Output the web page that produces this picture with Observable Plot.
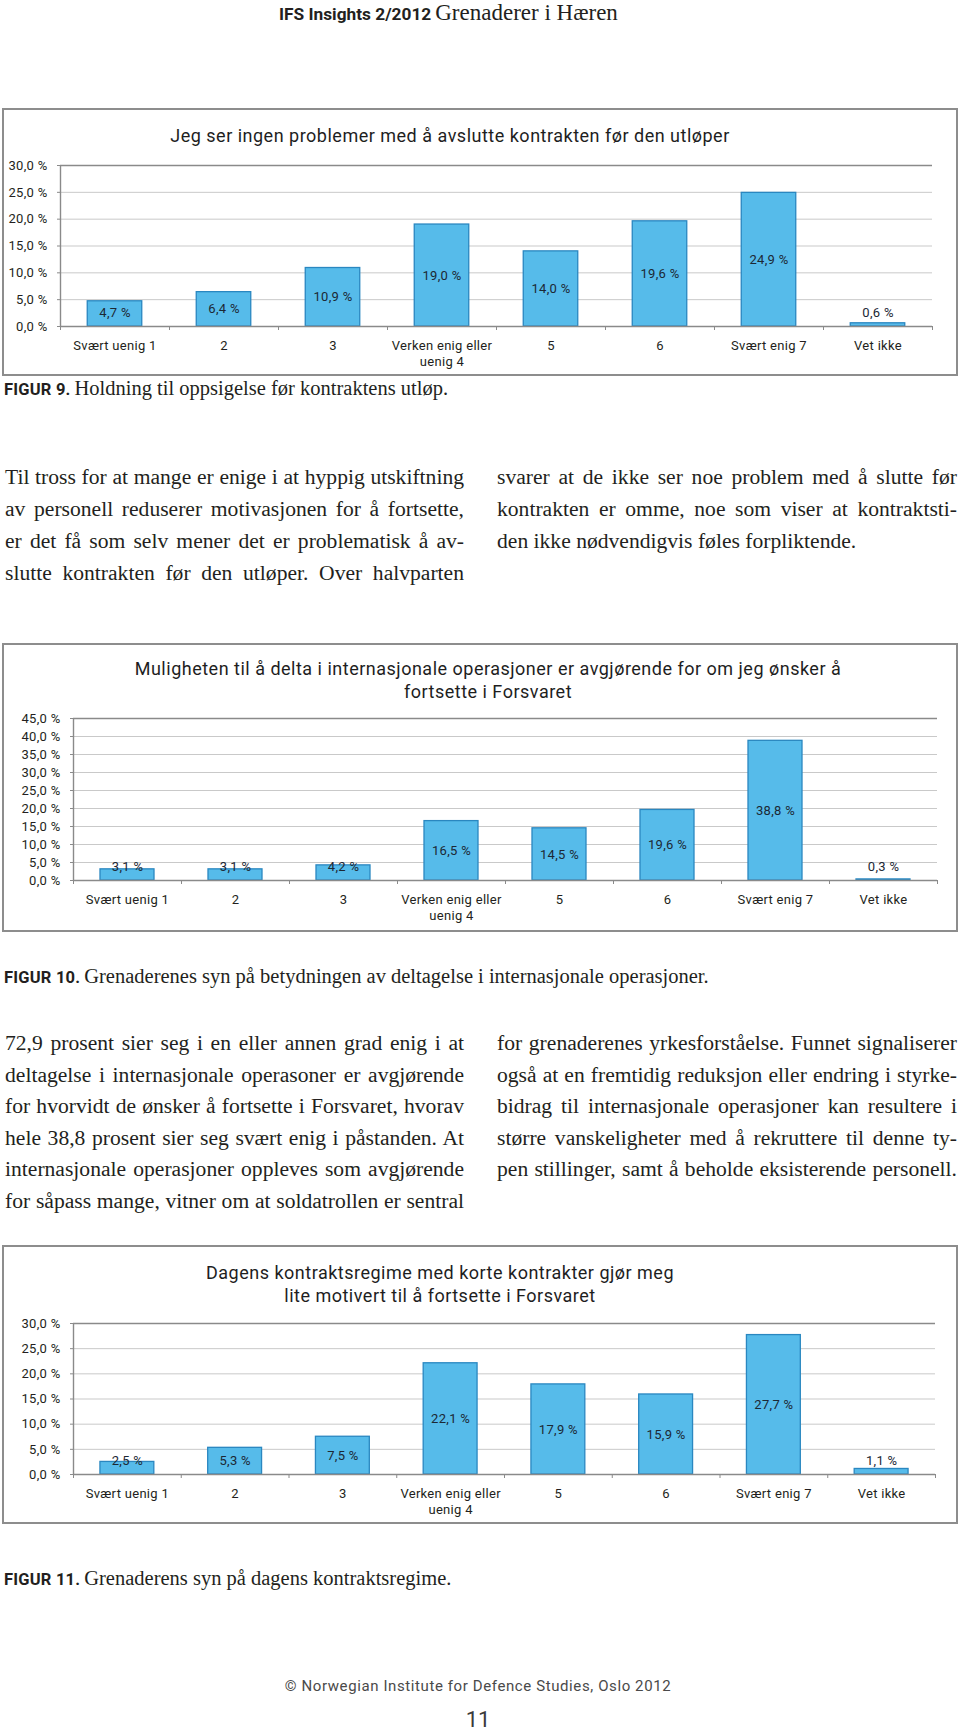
<!DOCTYPE html>
<html>
<head>
<meta charset="utf-8">
<script src="https://cdn.jsdelivr.net/npm/d3@7"></script>
<script src="https://cdn.jsdelivr.net/npm/@observablehq/plot@0.6"></script>
<style>
  body { margin: 0; background: #fff; }
  #page { position: relative; width: 960px; height: 1731px; overflow: hidden; background: #fff; color: #231f20; }
  .abs { position: absolute; }
  .box { position: absolute; left: 2px; width: 956px; border: 2px solid #8d8d8d; box-sizing: border-box; }
  .ctitle { position: absolute; font-family: Roboto, sans-serif; font-size: 18px; letter-spacing: 0.5px; line-height: 23px;
            text-align: center; white-space: nowrap; transform: translate(-50%, -50%); color: #1e1e1e; }
  .jl { position: absolute; font-family: "Liberation Serif", serif; font-size: 21.6px; line-height: 24px; white-space: nowrap;
        text-align: justify; text-align-last: justify; color: #231f20; }
  .ll { text-align-last: left; }
  .cap { position: absolute; left: 4px; white-space: nowrap; line-height: 24px; color: #231f20; }
  .cap b { font-family: Roboto, sans-serif; font-weight: 700; font-size: 16.5px; letter-spacing: 0.2px; }
  .cap span { font-family: "Liberation Serif", serif; font-size: 20.5px; }
  .chart { position: absolute; left: 0; }
</style>
</head>
<body>
<div id="page">
  <div class="abs" style="left:279px;top:1px;line-height:24px;white-space:nowrap;">
    <span style="font-family:Roboto,sans-serif;font-weight:700;font-size:17.3px;">IFS Insights 2/2012</span>
    <span style="font-family:'Liberation Serif',serif;font-size:23px;">Grenaderer i Hæren</span>
  </div>

  <!-- Figure 9 -->
  <div class="box" style="top:108px;height:268px;"></div>
  <div class="ctitle" id="t9" style="left:450px;top:135px;"></div>
  <div class="chart" id="c9" style="top:150px;"></div>
  <div class="cap" style="top:376px;"><b>FIGUR 9.</b> <span>Holdning til oppsigelse før kontraktens utløp.</span></div>

  <div class="jl" style="left:5px;width:459px;top:465px;">Til tross for at mange er enige i at hyppig utskiftning</div>
  <div class="jl" style="left:5px;width:459px;top:497px;">av personell reduserer motivasjonen for å fortsette,</div>
  <div class="jl" style="left:5px;width:459px;top:529px;">er det få som selv mener det er problematisk å av-</div>
  <div class="jl" style="left:5px;width:459px;top:561px;">slutte kontrakten før den utløper. Over halvparten</div>
  <div class="jl" style="left:497px;width:460px;top:465px;">svarer at de ikke ser noe problem med å slutte før</div>
  <div class="jl" style="left:497px;width:460px;top:497px;">kontrakten er omme, noe som viser at kontraktsti-</div>
  <div class="jl ll" style="left:497px;width:460px;top:529px;">den ikke nødvendigvis føles forpliktende.</div>

  <!-- Figure 10 -->
  <div class="box" style="top:643px;height:289px;"></div>
  <div class="ctitle" id="t10" style="left:488px;top:680px;"></div>
  <div class="chart" id="c10" style="top:700px;"></div>
  <div class="cap" style="top:964px;"><b>FIGUR 10.</b> <span>Grenaderenes syn på betydningen av deltagelse i internasjonale operasjoner.</span></div>

  <div class="jl" style="left:5px;width:459px;top:1031px;">72,9 prosent sier seg i en eller annen grad enig i at</div>
  <div class="jl" style="left:5px;width:459px;top:1063px;">deltagelse i internasjonale operasoner er avgjørende</div>
  <div class="jl" style="left:5px;width:459px;top:1094px;">for hvorvidt de ønsker å fortsette i Forsvaret, hvorav</div>
  <div class="jl" style="left:5px;width:459px;top:1126px;">hele 38,8 prosent sier seg svært enig i påstanden. At</div>
  <div class="jl" style="left:5px;width:459px;top:1157px;">internasjonale operasjoner oppleves som avgjørende</div>
  <div class="jl" style="left:5px;width:459px;top:1189px;">for såpass mange, vitner om at soldatrollen er sentral</div>
  <div class="jl" style="left:497px;width:460px;top:1031px;">for grenaderenes yrkesforståelse. Funnet signaliserer</div>
  <div class="jl" style="left:497px;width:460px;top:1063px;">også at en fremtidig reduksjon eller endring i styrke-</div>
  <div class="jl" style="left:497px;width:460px;top:1094px;">bidrag til internasjonale operasjoner kan resultere i</div>
  <div class="jl" style="left:497px;width:460px;top:1126px;">større vanskeligheter med å rekruttere til denne ty-</div>
  <div class="jl" style="left:497px;width:460px;top:1157px;">pen stillinger, samt å beholde eksisterende personell.</div>

  <!-- Figure 11 -->
  <div class="box" style="top:1245px;height:279px;"></div>
  <div class="ctitle" id="t11" style="left:440px;top:1284px;"></div>
  <div class="chart" id="c11" style="top:1305px;"></div>
  <div class="cap" style="top:1566px;"><b>FIGUR 11.</b> <span>Grenaderens syn på dagens kontraktsregime.</span></div>

  <div class="abs" style="left:0;width:956px;top:1674px;text-align:center;font-family:Roboto,sans-serif;font-size:15px;letter-spacing:0.6px;color:#4a4a4a;line-height:24px;">© Norwegian Institute for Defence Studies, Oslo 2012</div>
  <div class="abs" style="left:0;width:956px;top:1706px;text-align:center;font-family:Roboto,sans-serif;font-size:22px;color:#3a3a3a;line-height:28px;">11</div>
</div>

<script>
// ---- Data ----
const categories = ["Svært uenig 1", "2", "3", "Verken enig eller\nuenig 4", "5", "6", "Svært enig 7", "Vet ikke"];

const fig9Title = ["Jeg ser ingen problemer med å avslutte kontrakten før den utløper"];
const fig9Values = [4.7, 6.4, 10.9, 19.0, 14.0, 19.6, 24.9, 0.6];
const fig9Ticks = [0, 5, 10, 15, 20, 25, 30];

const fig10Title = ["Muligheten til å delta i internasjonale operasjoner er avgjørende for om jeg ønsker å", "fortsette i Forsvaret"];
const fig10Values = [3.1, 3.1, 4.2, 16.5, 14.5, 19.6, 38.8, 0.3];
const fig10Ticks = [0, 5, 10, 15, 20, 25, 30, 35, 40, 45];

const fig11Title = ["Dagens kontraktsregime med korte kontrakter gjør meg", "lite motivert til å fortsette i Forsvaret"];
const fig11Values = [2.5, 5.3, 7.5, 22.1, 17.9, 15.9, 27.7, 1.1];
const fig11Ticks = [0, 5, 10, 15, 20, 25, 30];

// ---- Helpers ----
const pct = v => v.toFixed(1).replace(".", ",") + " %";

function makeChart(values, ticks, L) {
  const data = categories.map((c, i) => ({cat: c, v: values[i]}));
  const yMax = ticks[ticks.length - 1];
  const plotW = L.width - L.ml - L.mr;
  const plotH = L.height - L.mt - L.mb;
  const step = plotW / categories.length;
  const perPx = yMax / plotH;
  const minLabel = 14 * perPx;
  const grey = "#8a8a8a";
  return Plot.plot({
    width: L.width, height: L.height,
    marginTop: L.mt, marginBottom: L.mb, marginLeft: L.ml, marginRight: L.mr,
    style: {fontFamily: "Roboto, sans-serif", fontSize: "13px", color: "#231f20", background: "transparent", overflow: "visible", letterSpacing: "0.3px"},
    x: {domain: categories, paddingInner: 0.5, paddingOuter: 0.25, align: 0.5, round: false, axis: null},
    y: {domain: [0, yMax], axis: null},
    marks: [
      Plot.gridY(ticks, {stroke: "#c9c9c9", strokeOpacity: 1, strokeWidth: 1}),
      Plot.barY(data, {x: "cat", y: "v", fill: "#56bbea", stroke: "#2a87c0", strokeWidth: 1.3}),
      Plot.ruleY([yMax], {stroke: grey, strokeWidth: 1.4}),
      Plot.ruleY([0], {stroke: grey, strokeWidth: 1.4}),
      Plot.ruleX([categories[0]], {x: d => d, y1: 0, y2: yMax, dx: -step / 2, stroke: grey, strokeWidth: 1.4}),
      Plot.ruleX(categories, {x: d => d, y1: 0, y2: -4 * perPx, dx: -step / 2, stroke: grey}),
      Plot.ruleX([categories[categories.length - 1]], {x: d => d, y1: 0, y2: -4 * perPx, dx: step / 2, stroke: grey}),
      Plot.axisY(ticks, {tickSize: 3, tickPadding: 10, tickFormat: pct, fontSize: 13, stroke: grey, label: null}),
      Plot.axisX({tickSize: 0, tickPadding: 12, fontSize: 13, lineHeight: 1.25, label: null}),
      Plot.text(data, {x: "cat", y: d => Math.max(d.v / 2, minLabel), text: d => pct(d.v), fontSize: 13, fill: "#1c2834"})
    ]
  });
}

function setTitle(id, lines) {
  const el = document.getElementById(id);
  lines.forEach((t, i) => { if (i) el.appendChild(document.createElement("br")); el.appendChild(document.createTextNode(t)); });
}

setTitle("t9", fig9Title);
setTitle("t10", fig10Title);
setTitle("t11", fig11Title);

document.getElementById("c9").appendChild(makeChart(fig9Values, fig9Ticks, {width: 958, height: 222, mt: 15, mb: 46, ml: 60, mr: 26}));
document.getElementById("c10").appendChild(makeChart(fig10Values, fig10Ticks, {width: 958, height: 226, mt: 18, mb: 46, ml: 73, mr: 21}));
document.getElementById("c11").appendChild(makeChart(fig11Values, fig11Ticks, {width: 958, height: 213, mt: 18, mb: 44, ml: 73, mr: 23}));
</script>
</body>
</html>
